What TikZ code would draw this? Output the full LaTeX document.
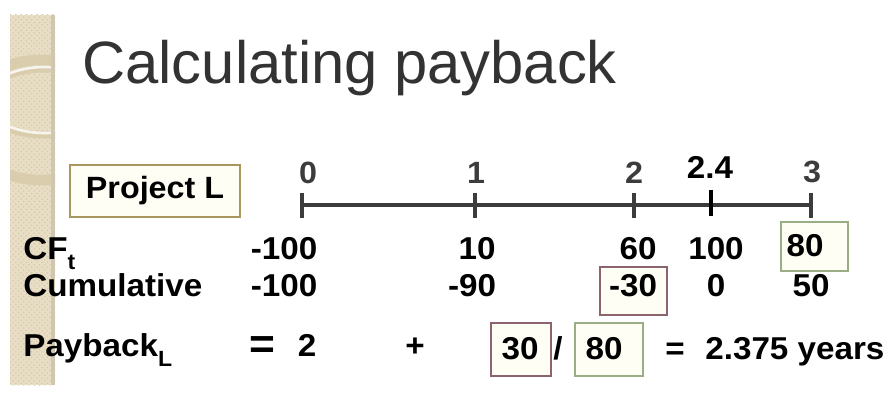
\documentclass[tikz,border=0pt]{standalone}
\usepackage{fontspec}
\setmainfont{Liberation Sans}
\newfontfamily\slidefont{Liberation Sans}[FakeStretch=1.05]
\usetikzlibrary{patterns}
\definecolor{titlegray}{HTML}{333333}
\definecolor{axisgray}{HTML}{3C3C3C}
\definecolor{stripbeige}{HTML}{E8DEC6}
\definecolor{stripdots}{HTML}{D8CBAA}
\definecolor{stripband}{HTML}{D9CDAE}
\definecolor{stripedge}{HTML}{CFC7B2}
\definecolor{khaki}{HTML}{A8975E}
\definecolor{boxgreen}{HTML}{9AAE86}
\definecolor{boxmauve}{HTML}{8C6470}
\definecolor{cream}{HTML}{FEFEF4}
\newcommand{\lowsub}[1]{\raisebox{-0.55ex}{\fontsize{12.5}{13}\selectfont #1}}
\tikzset{
  rowlabel/.style={
    anchor=base west,
    inner sep=0pt,
    font=\slidefont\fontsize{18}{20}\selectfont\bfseries
  },
  val/.style={
    anchor=base,
    inner sep=0pt,
    font=\slidefont\fontsize{18}{20}\selectfont\bfseries
  },
  ticklabel/.style={
    anchor=base,
    inner sep=0pt,
    text=axisgray,
    font=\slidefont\fontsize{17.5}{19}\selectfont\bfseries
  },
  hibox/.style={
    rectangle,
    draw,
    inner sep=0pt,
    line width=0.7pt,
    fill=cream
  },
  axis/.style={draw=axisgray, line width=2.2pt},
  tickline/.style={draw=axisgray, line width=2.4pt}
}

\begin{document}
\begin{tikzpicture}[x=0.02cm,y=-0.02cm]
\useasboundingbox (0,0) rectangle (888,394);

% side strip
\fill[stripbeige] (10,15) rectangle (55,385);
\fill[pattern=crosshatch dots, pattern color=stripdots] (10,15) rectangle (55,385);
\begin{scope}
  \clip (10,15) rectangle (55,385);
  \draw[stripband, line width=4pt] (45,102) ellipse [x radius=62, y radius=33];
  \draw[white!70!stripbeige, line width=1.5pt] (45,100) ellipse [x radius=60, y radius=33];
  \draw[stripband, line width=6pt] (40,120) ellipse [x radius=75, y radius=60];
\end{scope}
\fill[stripedge] (51,15) rectangle (55,385);

% title
\node[anchor=base west, inner sep=0pt, text=titlegray,
      font=\fontsize{34}{38}\selectfont] (title) at (82,84) {Calculating payback};

% project label
\node[hibox, draw=khaki, minimum width=3.4cm, minimum height=1.04cm,
      font=\slidefont\fontsize{17.5}{19}\selectfont\bfseries] (proj) at (155,191) {Project L};

% time line
\coordinate (t0) at (302,205);
\coordinate (t1) at (475,205);
\coordinate (t2) at (634,205);
\coordinate (t24) at (711,205);
\coordinate (t3) at (811,205);
\draw[axis] (t0) -- (t3);
\foreach \t in {t0,t1,t2,t3}
  \draw[tickline] (\t) ++(0,-12) -- ++(0,25);
\draw[line width=2.8pt, black] (t24) ++(0,-15) -- ++(0,26);

\node[ticklabel] (l0) at (308,184) {0};
\node[ticklabel] (l1) at (476,184) {1};
\node[ticklabel] (l2) at (634,184) {2};
\node[ticklabel, text=black, font=\slidefont\fontsize{18}{20}\selectfont\bfseries] (l24) at (710,179) {2.4};
\node[ticklabel] (l3) at (812,183) {3};

% highlight boxes
\node[hibox, draw=boxgreen, minimum width=1.34cm, minimum height=0.98cm] (box80) at (814.5,246.5) {};
\node[hibox, draw=boxmauve, minimum width=1.34cm, minimum height=0.96cm] (boxm30) at (633.5,291) {};
\node[hibox, draw=boxmauve, minimum width=1.2cm, minimum height=1.06cm] (boxnum) at (521,349.5) {};
\node[hibox, draw=boxgreen, minimum width=1.36cm, minimum height=1.06cm] (boxden) at (609,349.5) {};

% rows
\node[rowlabel] (cflabel) at (23,260) {CF\lowsub{t}};
\node[rowlabel] (cumlabel) at (23,297) {Cumulative};
\node[rowlabel] (pblabel) at (23,357) {Payback\lowsub{L}};

\node[val] (cf0) at (284,260) {-100};
\node[val] (cf1) at (477,260) {10};
\node[val] (cf2) at (638,260) {60};
\node[val] (cf24) at (716,260) {100};
\node[val] (cf3) at (805,257) {80};

\node[val] (cu0) at (284,297) {-100};
\node[val] (cu1) at (472,297) {-90};
\node[val] (cu2) at (633,297) {-30};
\node[val] (cu24) at (716,297) {0};
\node[val] (cu3) at (811,297) {50};

\node[val, font=\slidefont\fontsize{24}{26}\selectfont\bfseries] (eqa) at (262,358) {=};
\node[val] (two) at (307,357) {2};
\node[val] (plus) at (415,357) {+};
\node[val] (num) at (520,359) {30};
\node[val] (slash) at (558,359) {/};
\node[val] (den) at (604,359) {80};
\node[val] (eqb) at (675,359) {=};
\node[rowlabel] (result) at (705,359) {2.375 years};
\end{tikzpicture}
\end{document}
